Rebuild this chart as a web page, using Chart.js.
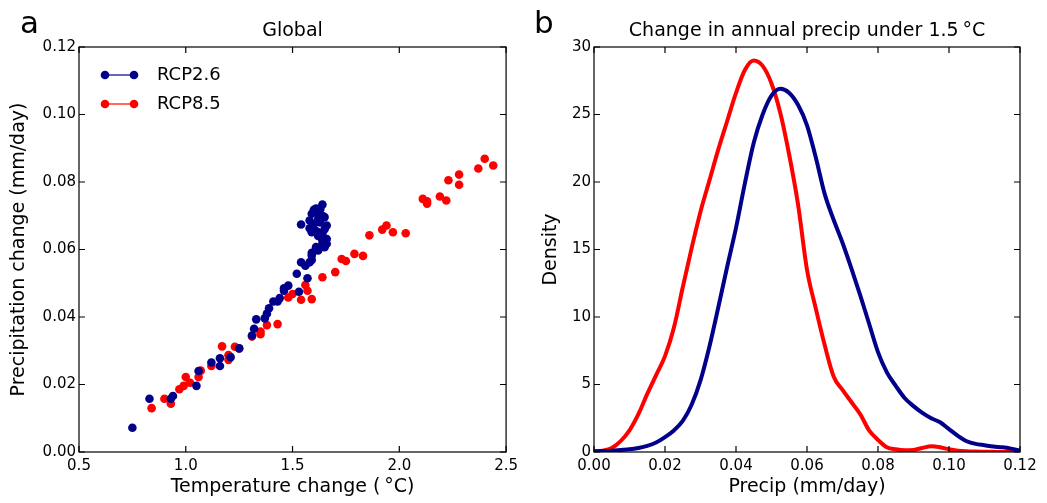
<!DOCTYPE html>
<html>
<head>
<meta charset="utf-8">
<script src="https://cdn.jsdelivr.net/npm/chart.js@4.4.1/dist/chart.umd.min.js"></script>
<style>
  body { margin: 0; background: #fff; }
  .panel { position: absolute; top: 0; height: 503px; }
</style>
</head>
<body>
<div class="panel" style="left:0;width:523px"><canvas id="graficoA" width="523" height="503"></canvas></div>
<div class="panel" style="left:523px;width:524px"><canvas id="graficoB" width="524" height="503"></canvas></div>
<script>
// Panel a: cambio de temperatura (°C) y de precipitación (mm/day)
var tempRcp26 = [0.75, 0.83, 0.93, 0.94, 1.05, 1.06, 1.12, 1.16, 1.16, 1.21,
                 1.25, 1.31, 1.32, 1.33, 1.37, 1.38, 1.39, 1.41, 1.43, 1.44,
                 1.46, 1.46, 1.48, 1.53, 1.52, 1.57, 1.54, 1.56, 1.58, 1.59,
                 1.59, 1.61, 1.62, 1.65, 1.54, 1.64, 1.61, 1.65, 1.66, 1.58,
                 1.59, 1.61, 1.62, 1.64, 1.66, 1.64, 1.58, 1.59, 1.64, 1.66,
                 1.61, 1.62, 1.59, 1.62, 1.63, 1.60, 1.65, 1.62, 1.64, 1.60,
                 1.63, 1.61];
var precRcp26 = [0.0072, 0.0158, 0.0158, 0.0166, 0.0196, 0.0240, 0.0265, 0.0255, 0.0278, 0.0281,
                 0.0307, 0.0345, 0.0365, 0.0393, 0.0396, 0.0410, 0.0426, 0.0446, 0.0446, 0.0456,
                 0.0478, 0.0485, 0.0493, 0.0475, 0.0528, 0.0515, 0.0562, 0.0552, 0.0562, 0.0569,
                 0.0582, 0.0599, 0.0604, 0.0607, 0.0674, 0.0733, 0.0721, 0.0696, 0.0671, 0.0686,
                 0.0706, 0.0711, 0.0651, 0.0646, 0.0631, 0.0616, 0.0663, 0.0651, 0.0627, 0.0617,
                 0.0607, 0.0597, 0.0590, 0.0690, 0.0680, 0.0675, 0.0660, 0.0640, 0.0700, 0.0718,
                 0.0720, 0.0655];
var tempRcp85 = [0.84, 0.90, 0.93, 0.97, 0.99, 1.02, 1.00, 1.06, 1.07, 1.12,
                 1.17, 1.20, 1.20, 1.23, 1.25, 1.31, 1.35, 1.35, 1.38, 1.43,
                 1.48, 1.50, 1.54, 1.59, 1.56, 1.57, 1.64, 1.70, 1.73, 1.75,
                 1.79, 1.83, 1.86, 1.92, 1.94, 1.97, 2.03, 2.11, 2.13, 2.13,
                 2.19, 2.22, 2.23, 2.28, 2.28, 2.37, 2.40, 2.44];
var precRcp85 = [0.0130, 0.0158, 0.0143, 0.0186, 0.0196, 0.0205, 0.0222, 0.0222, 0.0241, 0.0255,
                 0.0313, 0.0287, 0.0273, 0.0312, 0.0307, 0.0342, 0.0349, 0.0357, 0.0376, 0.0379,
                 0.0458, 0.0468, 0.0451, 0.0453, 0.0495, 0.0478, 0.0518, 0.0533, 0.0572, 0.0566,
                 0.0587, 0.0581, 0.0642, 0.0659, 0.0671, 0.0651, 0.0648, 0.0750, 0.0743, 0.0736,
                 0.0757, 0.0745, 0.0805, 0.0822, 0.0792, 0.0840, 0.0869, 0.0849];

// Panel b: densidad del cambio de precipitación anual bajo 1.5 °C
var precipEje = [0.0000, 0.0025, 0.0050, 0.0075, 0.0100, 0.0125, 0.0150, 0.0175, 0.0200, 0.0225,
                 0.0250, 0.0275, 0.0300, 0.0325, 0.0350, 0.0375, 0.0400, 0.0425, 0.0450, 0.0475,
                 0.0500, 0.0525, 0.0550, 0.0575, 0.0600, 0.0625, 0.0650, 0.0675, 0.0700, 0.0725,
                 0.0750, 0.0775, 0.0800, 0.0825, 0.0850, 0.0875, 0.0900, 0.0925, 0.0950, 0.0975,
                 0.1000, 0.1025, 0.1050, 0.1075, 0.1100, 0.1125, 0.1150, 0.1175, 0.1200];
var densRcp26 = [0.05, 0.07, 0.1, 0.15, 0.2, 0.3, 0.45, 0.7, 1.1, 1.6,
                 2.3, 3.5, 5.3, 7.8, 10.7, 13.7, 16.6, 19.9, 22.9, 25.0,
                 26.4, 26.9, 26.6, 25.7, 24.2, 21.8, 19.1, 17.2, 15.5, 13.6,
                 11.6, 9.5, 7.4, 5.9, 4.9, 4.0, 3.4, 2.9, 2.5, 2.2,
                 1.7, 1.2, 0.8, 0.6, 0.5, 0.4, 0.35, 0.25, 0.1];
var densRcp85 = [0.03, 0.1, 0.3, 0.8, 1.6, 2.8, 4.3, 5.7, 7.1, 9.2,
                 12.2, 15.1, 17.8, 20.1, 22.4, 24.5, 26.6, 28.3, 29.0, 28.6,
                 27.3, 25.1, 22.0, 18.3, 13.5, 10.6, 7.9, 5.6, 4.6, 3.7,
                 2.8, 1.6, 0.9, 0.35, 0.2, 0.13, 0.15, 0.3, 0.42, 0.35,
                 0.2, 0.1, 0.05, 0.03, 0.02, 0.01, 0.0, 0.0, 0.0];

var AZUL = "#00008b";
var ROJO = "#ff0000";

Chart.defaults.font.family = "'DejaVu Sans', sans-serif";
Chart.defaults.color = "#000";

function puntos(xs, ys) {
  return xs.map(function (x, i) { return { x: x, y: ys[i] }; });
}

// icono de la leyenda: línea con dos marcadores
function iconoLeyenda(color) {
  var c = document.createElement("canvas");
  c.width = 58;
  c.height = 12;
  var g = c.getContext("2d");
  g.strokeStyle = color;
  g.lineWidth = 1.2;
  g.beginPath();
  g.moveTo(15, 6);
  g.lineTo(44, 6);
  g.stroke();
  g.fillStyle = color;
  [15, 44].forEach(function (cx) {
    g.beginPath();
    g.arc(cx, 6, 4.3, 0, 2 * Math.PI);
    g.fill();
  });
  return c;
}
var iconos = [iconoLeyenda(AZUL), iconoLeyenda(ROJO)];

// marco completo con marcas hacia dentro
var marco = {
  id: "marco",
  afterDatasetsDraw: function (chart) {
    var ctx = chart.ctx, a = chart.chartArea;
    var sx = chart.scales.x, sy = chart.scales.y, L = 6;
    ctx.save();
    ctx.strokeStyle = "#000";
    ctx.lineWidth = 1.2;
    ctx.strokeRect(a.left, a.top, a.right - a.left, a.bottom - a.top);
    ctx.beginPath();
    sx.ticks.forEach(function (t) {
      var px = sx.getPixelForValue(t.value);
      ctx.moveTo(px, a.bottom); ctx.lineTo(px, a.bottom - L);
      ctx.moveTo(px, a.top); ctx.lineTo(px, a.top + L);
    });
    sy.ticks.forEach(function (t) {
      var py = sy.getPixelForValue(t.value);
      ctx.moveTo(a.left, py); ctx.lineTo(a.left + L, py);
      ctx.moveTo(a.right, py); ctx.lineTo(a.right - L, py);
    });
    ctx.stroke();
    ctx.restore();
  }
};

// título del panel y letra
var rotulos = {
  id: "rotulos",
  afterDraw: function (chart, args, opts) {
    var ctx = chart.ctx, a = chart.chartArea;
    ctx.save();
    ctx.fillStyle = "#000";
    ctx.font = "19px 'DejaVu Sans'";
    ctx.textAlign = "center";
    ctx.textBaseline = "middle";
    ctx.fillText(opts.titulo, (a.left + a.right) / 2, 31);
    ctx.font = "31px 'DejaVu Sans'";
    ctx.textAlign = "left";
    ctx.textBaseline = "alphabetic";
    ctx.fillText(opts.letra, opts.letraX, 33);
    ctx.restore();
  }
};

function ejeX(min, max, paso, dec, titulo) {
  return {
    type: "linear", min: min, max: max,
    ticks: { stepSize: paso, padding: 5, font: { size: 15 }, color: "#000",
             callback: function (v) { return v.toFixed(dec); } },
    grid: { display: false, drawTicks: false },
    border: { display: false },
    title: { display: true, text: titulo, font: { size: 19 }, padding: 0, color: "#000" },
    afterFit: function (s) { s.height = 46; }
  };
}

function ejeY(min, max, paso, dec, titulo, ancho) {
  return {
    type: "linear", min: min, max: max,
    ticks: { stepSize: paso, padding: 3, font: { size: 15 }, color: "#000",
             callback: function (v) { return v.toFixed(dec); } },
    grid: { display: false, drawTicks: false },
    border: { display: false },
    title: { display: true, text: titulo, font: { size: 19 }, padding: 0, color: "#000" },
    afterFit: function (s) { s.width = ancho; }
  };
}

new Chart(document.getElementById("graficoA"), {
  type: "scatter",
  data: {
    datasets: [
      { label: "RCP2.6", data: puntos(tempRcp26, precRcp26),
        backgroundColor: AZUL, borderColor: AZUL, pointRadius: 4.3, pointBorderWidth: 0 },
      { label: "RCP8.5", data: puntos(tempRcp85, precRcp85),
        backgroundColor: ROJO, borderColor: ROJO, pointRadius: 4.3, pointBorderWidth: 0 }
    ]
  },
  options: {
    responsive: false,
    animation: false,
    layout: { padding: { left: 8, right: 14, top: 47, bottom: 5 } },
    scales: {
      x: ejeX(0.5, 2.5, 0.5, 1, "Temperature change (\u2009°C)"),
      y: ejeY(0, 0.12, 0.02, 2, "Precipitation change (mm/day)", 71)
    },
    plugins: {
      legend: {
        position: "chartArea",
        align: "start",
        title: { display: true, text: " ", font: { size: 1, lineHeight: 1 }, padding: { top: 54, bottom: 0 } },
        labels: {
          usePointStyle: true,
          pointStyleWidth: 58,
          padding: 11,
          font: { size: 18 },
          color: "#000",
          generateLabels: function (chart) {
            return chart.data.datasets.map(function (ds, i) {
              return { text: ds.label, pointStyle: iconos[i], fillStyle: ds.backgroundColor,
                       strokeStyle: ds.borderColor, lineWidth: 0, hidden: false,
                       datasetIndex: i, fontColor: "#000" };
            });
          }
        }
      },
      tooltip: { enabled: false },
      rotulos: { titulo: "Global", letra: "a", letraX: 20 }
    }
  },
  plugins: [marco, rotulos]
});

new Chart(document.getElementById("graficoB"), {
  type: "line",
  data: {
    datasets: [
      { label: "RCP2.6", data: puntos(precipEje, densRcp26), borderColor: AZUL,
        borderWidth: 4, pointRadius: 0, fill: false, cubicInterpolationMode: "monotone", clip: 0 },
      { label: "RCP8.5", data: puntos(precipEje, densRcp85), borderColor: ROJO,
        borderWidth: 4, pointRadius: 0, fill: false, cubicInterpolationMode: "monotone", clip: 0 }
    ]
  },
  options: {
    responsive: false,
    animation: false,
    layout: { padding: { left: 17, right: 27, top: 47, bottom: 5 } },
    scales: {
      x: ejeX(0, 0.12, 0.02, 2, "Precip (mm/day)"),
      y: ejeY(0, 30, 5, 0, "Density", 54)
    },
    plugins: {
      legend: { display: false },
      tooltip: { enabled: false },
      rotulos: { titulo: "Change in annual precip under 1.5\u2009°C", letra: "b", letraX: 11 }
    }
  },
  plugins: [marco, rotulos]
});
</script>
</body>
</html>
